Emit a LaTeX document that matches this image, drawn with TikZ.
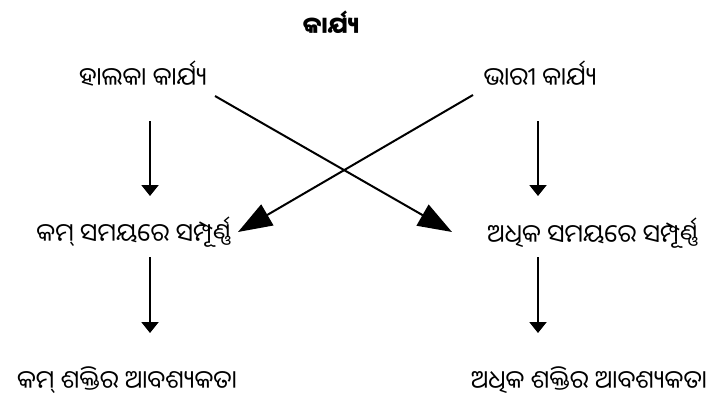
\documentclass[tikz,border=0pt]{standalone}
\usepackage{fontspec}
\newfontfamily\odia[Script=Oriya]{Noto Sans Oriya UI}
\usetikzlibrary{arrows.meta}
\begin{document}
\begin{tikzpicture}[x=1pt,y=-1pt,
  lbl/.style={font=\odia\fontsize{25}{28}\selectfont, anchor=base, inner sep=0pt},
  ttl/.style={font=\odia\bfseries\fontsize{23}{26}\selectfont, anchor=base, inner sep=0pt},
  varrow/.style={line width=2pt, -{Triangle[length=11pt,width=17pt]}},
  xarrow/.style={line width=2pt, -{Triangle[length=34pt,width=24pt]}}]
\useasboundingbox[fill=white] (0,0) rectangle (721,399);
\node[ttl] (t) at (331,35) {କାର୍ଯ୍ୟ};
\node[lbl] (hal) at (143,87) {ହାଲକା କାର୍ଯ୍ୟ};
\node[lbl] (bha) at (540,87) {ଭାରୀ କାର୍ଯ୍ୟ};
\node[lbl] (kam) at (134,243) {କମ୍ ସମୟରେ ସମ୍ପୂର୍ଣ୍ଣ};
\node[lbl] (adh) at (593,244) {ଅଧିକ ସମୟରେ ସମ୍ପୂର୍ଣ୍ଣ};
\node[lbl] (kams) at (127,390) {କମ୍ ଶକ୍ତିର ଆବଶ୍ୟକତା};
\node[lbl] (adhs) at (589,390) {ଅଧିକ ଶକ୍ତିର ଆବଶ୍ୟକତା};
\coordinate (h1) at (150,121); \coordinate (k1) at (150,196);
\coordinate (k2) at (150,257); \coordinate (ks) at (150,333);
\coordinate (b1) at (538,121); \coordinate (a1) at (538,196);
\coordinate (a2) at (538,257); \coordinate (as) at (538,333);
\coordinate (hx) at (215,96); \coordinate (ax) at (452,232);
\coordinate (bx) at (473,95); \coordinate (kx) at (238,232);
\draw[varrow] (h1) -- (k1);
\draw[varrow] (k2) -- (ks);
\draw[varrow] (b1) -- (a1);
\draw[varrow] (a2) -- (as);
\draw[xarrow] (hx) -- (ax);
\draw[xarrow] (bx) -- (kx);
\end{tikzpicture}
\end{document}
